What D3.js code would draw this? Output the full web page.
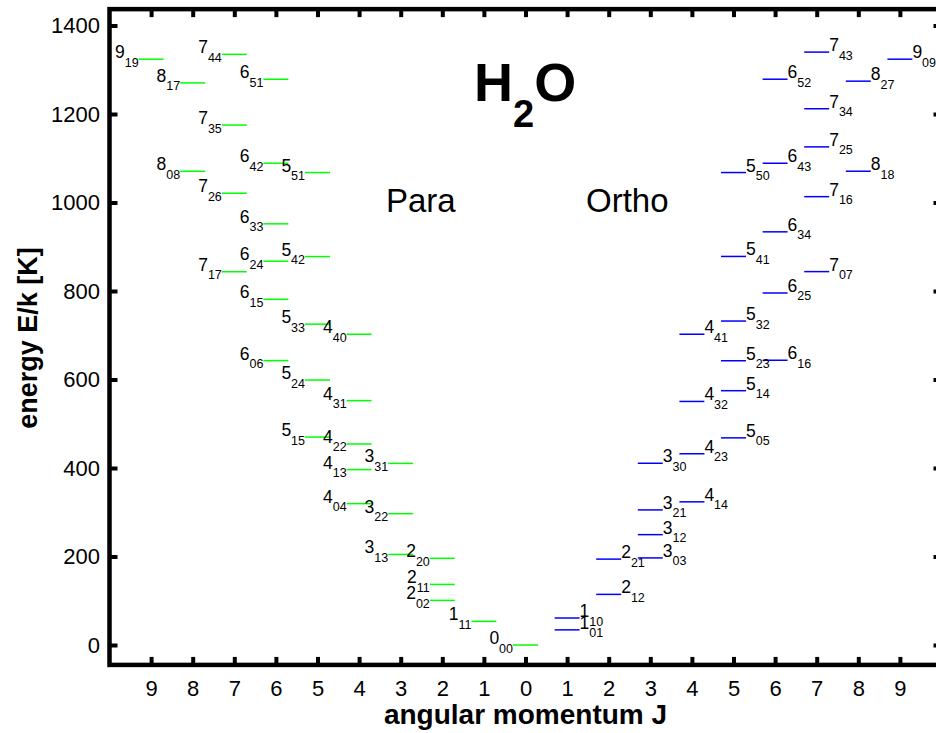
<!DOCTYPE html>
<html>
<head>
<meta charset="utf-8">
<script src="https://cdn.jsdelivr.net/npm/d3@7"></script>
<style>
  html, body { margin: 0; padding: 0; background: #fff; }
  svg { display: block; }
  text { font-family: "Liberation Sans", Arial, Helvetica, sans-serif; fill: #000; }
</style>
</head>
<body>
<svg id="chart" width="936" height="733"></svg>
<script>
// Para-H2O rotational levels J_KaKc and their energies E/k in K
const paraJ = [0, 1, 2, 2, 2, 3, 3, 3, 4, 4, 4, 4, 4, 5, 5, 5, 5, 5, 6, 6, 6, 6, 6, 6, 7, 7, 7, 7, 8, 8, 9];
const paraK = ["00", "11", "02", "11", "20", "13", "22", "31", "04", "13", "22", "31", "40",
               "15", "24", "33", "42", "51", "06", "15", "24", "33", "42", "51",
               "17", "26", "35", "44", "08", "17", "19"];
const paraE = [0, 53.4, 100.8, 136.9, 195.9, 204.7, 296.8, 410.4, 319.5, 396.4, 454.3, 552.3, 702.3,
               469.9, 598.8, 725.1, 877.8, 1067.7, 642.7, 781.2, 867.3, 951.8, 1088.8, 1278.5,
               843.5, 1021.0, 1175.0, 1334.8, 1070.6, 1270.3, 1324.0];

// Ortho-H2O rotational levels
const orthoJ = [1, 1, 2, 2, 3, 3, 3, 3, 4, 4, 4, 4, 5, 5, 5, 5, 5, 5, 6, 6, 6, 6, 6, 7, 7, 7, 7, 7, 8, 8, 9];
const orthoK = ["01", "10", "12", "21", "03", "12", "21", "30", "14", "23", "32", "41",
                "05", "14", "23", "32", "41", "50", "16", "25", "34", "43", "52",
                "07", "16", "25", "34", "43", "18", "27", "09"];
const orthoE = [34.2, 61.0, 114.4, 194.1, 196.8, 249.4, 305.3, 410.7, 323.5, 432.2, 550.4, 702.3,
                468.1, 574.7, 642.4, 732.1, 878.1, 1067.7, 643.5, 795.5, 933.7, 1088.7, 1278.6,
                843.8, 1013.2, 1125.7, 1211.9, 1339.9, 1070.7, 1274.2, 1323.9];

// Axis ticks: J runs outward from 0 in both directions (para left, ortho right)
const xTicks = [-9, -8, -7, -6, -5, -4, -3, -2, -1, 0, 1, 2, 3, 4, 5, 6, 7, 8, 9];
const yTicks = [0, 200, 400, 600, 800, 1000, 1200, 1400];

const FONT = '"Liberation Sans", Arial, Helvetica, sans-serif';
const svg = d3.select("#chart");

const x = d3.scaleLinear().domain([-10, 10]).range([109.5, 941.5]);
const y = d3.scaleLinear().domain([0, 1400]).range([645, 25.5]);

const frameLeft = x(-10), frameRight = x(10);
const frameTop = y(1437), frameBottom = y(-45);
const halfW = 0.3;   // half length of a level bar, in J units

const para = paraJ.map((J, i) => ({ J, k: paraK[i], E: paraE[i] }));
const ortho = orthoJ.map((J, i) => ({ J, k: orthoK[i], E: orthoE[i] }));

// ---- energy level bars ----
svg.append("g").selectAll("line").data(para).join("line")
  .attr("x1", d => x(-d.J - halfW)).attr("x2", d => x(-d.J + halfW))
  .attr("y1", d => y(d.E)).attr("y2", d => y(d.E))
  .attr("stroke", "#00ff00").attr("stroke-width", 1.5);

svg.append("g").selectAll("line").data(ortho).join("line")
  .attr("x1", d => x(d.J - halfW)).attr("x2", d => x(d.J + halfW))
  .attr("y1", d => y(d.E)).attr("y2", d => y(d.E))
  .attr("stroke", "#0000ff").attr("stroke-width", 1.5);

// ---- level labels J with KaKc subscript ----
function levelLabel(sel) {
  sel.append("tspan").attr("font-size", 17.5).text(d => d.J);
  sel.append("tspan").attr("font-size", 12.5).attr("dy", 8.5).text(d => d.k);
}

svg.append("g").selectAll("text").data(para).join("text")
  .attr("x", d => x(-d.J - halfW)).attr("y", d => y(d.E) - 1)
  .attr("text-anchor", "end")
  .call(levelLabel);

svg.append("g").selectAll("text").data(ortho).join("text")
  .attr("x", d => x(d.J + halfW)).attr("y", d => y(d.E) - 1)
  .attr("text-anchor", "start")
  .call(levelLabel);

// ---- axes (ticks point inward, box on all four sides) ----
function styleAxis(g) {
  g.select(".domain").remove();
  g.selectAll(".tick line").attr("stroke", "#000").attr("stroke-width", 4);
  g.attr("font-family", FONT).attr("font-size", 22);
  g.selectAll(".tick text").attr("fill", "#000");
}

svg.append("g").attr("transform", `translate(0,${frameBottom})`)
  .call(d3.axisBottom(x).tickValues(xTicks).tickFormat(d => Math.abs(d))
    .tickSize(-8).tickSizeOuter(0).tickPadding(15))
  .call(styleAxis);

svg.append("g").attr("transform", `translate(0,${frameTop})`)
  .call(d3.axisTop(x).tickValues(xTicks).tickFormat("")
    .tickSize(-8).tickSizeOuter(0))
  .call(styleAxis);

svg.append("g").attr("transform", `translate(${frameLeft},0)`)
  .call(d3.axisLeft(y).tickValues(yTicks).tickFormat(d3.format("d"))
    .tickSize(-8).tickSizeOuter(0).tickPadding(9.5))
  .call(styleAxis);

svg.append("g").attr("transform", `translate(${frameRight},0)`)
  .call(d3.axisRight(y).tickValues(yTicks).tickFormat("")
    .tickSize(-8).tickSizeOuter(0))
  .call(styleAxis);

svg.append("rect")
  .attr("x", frameLeft).attr("y", frameTop)
  .attr("width", frameRight - frameLeft).attr("height", frameBottom - frameTop)
  .attr("fill", "none").attr("stroke", "#000").attr("stroke-width", 4.5);

// ---- axis titles ----
svg.append("text")
  .attr("x", x(0)).attr("y", 724)
  .attr("text-anchor", "middle")
  .attr("font-size", 28).attr("font-weight", "bold")
  .text("angular momentum J");

svg.append("text")
  .attr("transform", "translate(37,338) rotate(-90)")
  .attr("text-anchor", "middle")
  .attr("font-size", 27).attr("font-weight", "bold")
  .text("energy E/k [K]");

// ---- annotations ----
const title = svg.append("text")
  .attr("x", 474).attr("y", 101)
  .attr("font-weight", "bold").attr("font-size", 54);
title.append("tspan").text("H");
title.append("tspan").attr("font-size", 38).attr("dy", 26).text("2");
title.append("tspan").attr("dy", -26).text("O");

svg.append("text")
  .attr("x", 386).attr("y", 212).attr("font-size", 33)
  .text("Para");

svg.append("text")
  .attr("x", 586).attr("y", 212).attr("font-size", 33)
  .text("Ortho");
</script>
</body>
</html>
